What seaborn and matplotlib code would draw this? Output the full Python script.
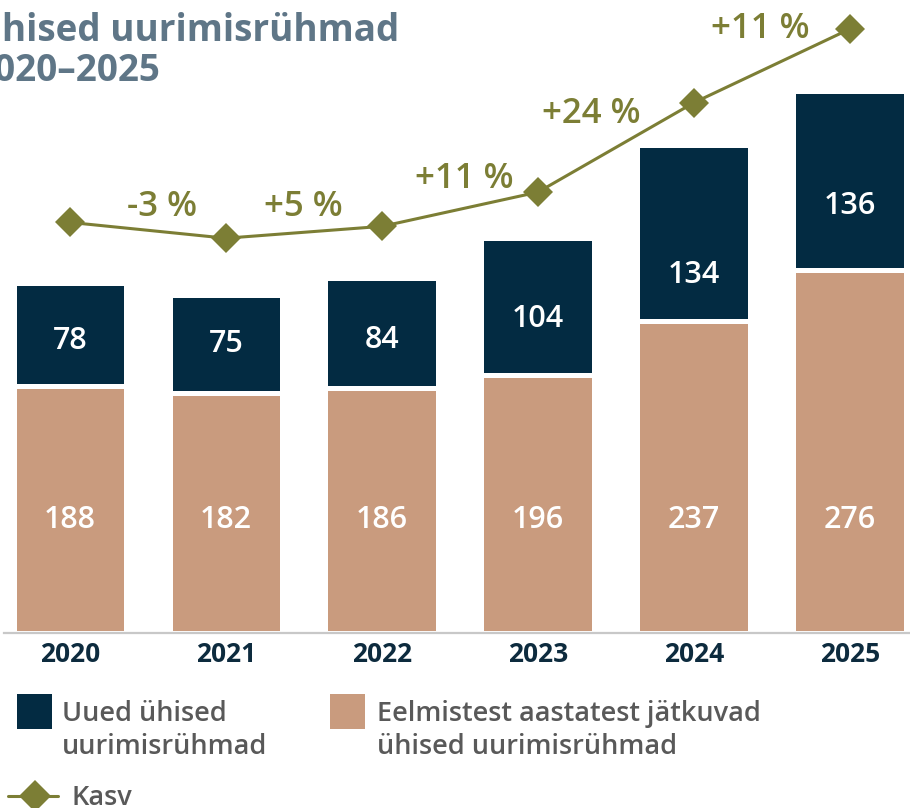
import numpy as np
import matplotlib
matplotlib.use("Agg")  # Headless mode for saving files
import matplotlib.pyplot as plt
import seaborn as sns
from matplotlib.patches import Rectangle
from matplotlib.lines import Line2D

# === Data ===
YEARS = ["2020", "2021", "2022", "2023", "2024", "2025"]
NEW_GROUPS = [78, 75, 84, 104, 134, 136]
CONTINUING_GROUPS = [188, 182, 186, 196, 237, 276]
GROWTH_LABELS = ["-3 %", "+5 %", "+11 %", "+24 %", "+11 %"]
# growth line as drawn in the picture, read on the bar scale
GROWTH_LINE = [312, 300, 309, 335, 403, 459]

TITLE = "Ühised uurimisrühmad\n2020–2025"
NEW_LABEL = "Uued ühised\nuurimisrühmad"
CONT_LABEL = "Eelmistest aastatest jätkuvad\nühised uurimisrühmad"
LINE_LABEL = "Kasv"

# === Colours ===
NAVY = "#032b42"
TAN = "#c99b7e"
OLIVE = "#7c7e35"
TITLE_GREY = "#5f7687"
TEXT_GREY = "#595959"
YEAR_NAVY = "#0d2b3e"

W, H = 910, 808

sns.set_theme(style="white")
plt.rcParams["font.family"] = ["Open Sans", "DejaVu Sans"]


def fx(px):
    return px / W


def fy(py):
    return 1 - py / H


totals = [a + b for a, b in zip(NEW_GROUPS, CONTINUING_GROUPS)]

fig = plt.figure(figsize=(W / 100, H / 100), dpi=100)
ax = fig.add_axes([fx(4), fy(633), 1 - fx(4), 633 / H])

# stacked bars: totals in navy, continuing groups drawn over them in tan
bar_kws = dict(saturation=1, width=0.724, edgecolor="white", linewidth=3.6, ax=ax)
sns.barplot(x=YEARS, y=totals, color=NAVY, **bar_kws)
sns.barplot(x=YEARS, y=CONTINUING_GROUPS, color=TAN, **bar_kws)

# growth line
sns.lineplot(x=YEARS, y=GROWTH_LINE, sort=False, color=OLIVE, linewidth=2.2,
             marker="D", markersize=15, markeredgewidth=0, ax=ax, zorder=5)

# growth labels between the points
growth_offsets = [(14, 23), (-1, 25), (4, 30), (-25, 33), (-12, 37)]
for i, lab in enumerate(GROWTH_LABELS):
    mid_y = (GROWTH_LINE[i] + GROWTH_LINE[i + 1]) / 2
    ax.annotate(lab, xy=(i + 0.5, mid_y), xytext=growth_offsets[i],
                textcoords="offset pixels", ha="center", va="center",
                fontsize=25, fontweight="semibold", color=OLIVE)

# value labels inside bars
new_offsets = [45, 49, 48, 56, 46, 64]
for i in range(len(YEARS)):
    ax.annotate(str(NEW_GROUPS[i]), xy=(i, CONTINUING_GROUPS[i]),
                xytext=(0, new_offsets[i]), textcoords="offset pixels",
                ha="center", va="center", fontsize=22, fontweight="semibold",
                color="white")
    ax.annotate(str(CONTINUING_GROUPS[i]), xy=(i, 0), xytext=(0, 113),
                textcoords="offset pixels", ha="center", va="center",
                fontsize=22, fontweight="semibold", color="white")

# axes styling
ax.set_xlim(-0.423, 5.385)
ax.set_ylim(0, 481)
ax.set_yticks([])
ax.set_xlabel("")
ax.set_ylabel("")
for side in ["top", "left", "right"]:
    ax.spines[side].set_visible(False)
ax.spines["bottom"].set_color("#c8c8c8")
ax.spines["bottom"].set_linewidth(1.6)
ax.tick_params(axis="x", length=0, pad=6, labelsize=19, labelcolor=YEAR_NAVY)
for lbl in ax.get_xticklabels():
    lbl.set_fontweight("bold")

# title (left part runs off the canvas as in the original)
fig.text(fx(-26), fy(12), TITLE, ha="left", va="top", fontsize=26.6,
         fontweight="bold", color=TITLE_GREY, linespacing=1.08)

# legend
fig.add_artist(Rectangle((fx(17), fy(729)), 35 / W, 35 / H, transform=fig.transFigure,
                         facecolor=NAVY, edgecolor="none"))
fig.text(fx(62), fy(700), NEW_LABEL, ha="left", va="top", fontsize=19.5,
         fontweight="semibold", color=TEXT_GREY, linespacing=1.25)
fig.add_artist(Rectangle((fx(330), fy(729)), 35 / W, 35 / H, transform=fig.transFigure,
                         facecolor=TAN, edgecolor="none"))
fig.text(fx(377), fy(700), CONT_LABEL, ha="left", va="top", fontsize=19.5,
         fontweight="semibold", color=TEXT_GREY, linespacing=1.25)
fig.add_artist(Line2D([fx(8), fx(58)], [fy(796), fy(796)], transform=fig.transFigure,
                      color=OLIVE, linewidth=2.2))
fig.add_artist(Line2D([fx(35)], [fy(796)], transform=fig.transFigure, color=OLIVE,
                      marker="D", markersize=16, markeredgewidth=0))
fig.text(fx(72), fy(784), LINE_LABEL, ha="left", va="top", fontsize=19.5,
         fontweight="semibold", color=TEXT_GREY)

fig.savefig("out.png", dpi=100)
